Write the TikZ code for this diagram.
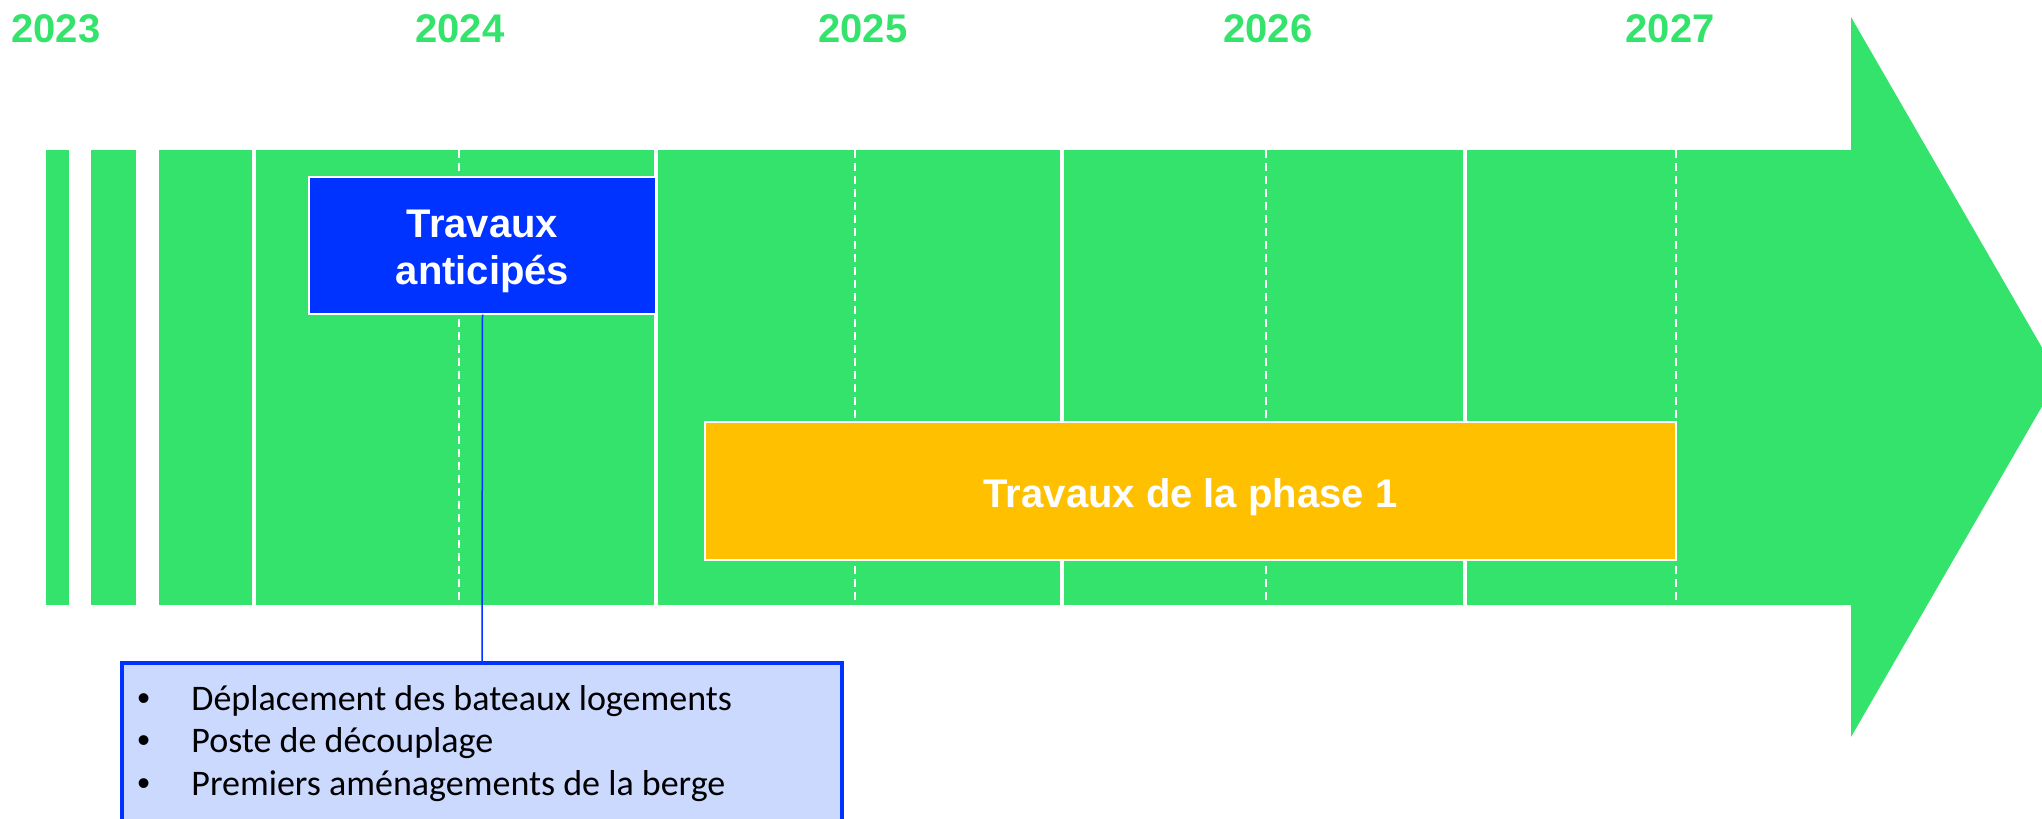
\documentclass[tikz,border=0pt]{standalone}
\usepackage{fontspec}
\setmainfont{Liberation Sans}
\newfontfamily\calib{Carlito}
\definecolor{tlgreen}{RGB}{52,227,108}
\definecolor{tlblue}{RGB}{0,51,255}
\definecolor{tlorange}{RGB}{255,192,0}
\definecolor{tllight}{RGB}{204,217,255}
\begin{document}
\begin{tikzpicture}[x=0.5pt,y=-0.5pt,
  seg/.style={fill=tlgreen},
  yeardash/.style={draw=white, line width=0.75pt, dash pattern=on 4pt off 2.5pt},
  yearlbl/.style={font=\bfseries\fontsize{20}{24}\selectfont, text=tlgreen, anchor=base, inner sep=0pt},
  phasebox/.style={draw=white, line width=0.6pt, inner sep=0pt, text=white, font=\bfseries\fontsize{20}{23.5}\selectfont},
  callbox/.style={draw=tlblue, line width=2pt, fill=tllight, inner sep=0pt},
  itemtxt/.style={font=\calib\fontsize{18}{21}\selectfont, anchor=base west, inner sep=0pt},
  link/.style={draw=tlblue, line width=0.75pt}]
\useasboundingbox (0,0) rectangle (2042,819);
\clip (0,0) rectangle (2042,819);
% green timeline segments
\fill[seg] (46,150) rectangle (69,605);
\fill[seg] (91,150) rectangle (136,605);
\fill[seg] (159,150) rectangle (252,605);
\fill[seg] (256,150) rectangle (654,605);
\fill[seg] (658,150) rectangle (1060,605);
\fill[seg] (1064,150) rectangle (1463,605);
\fill[seg] (1467,150) -- (1851,150) -- (1851,17) -- (2059,377) -- (1851,737) -- (1851,605) -- (1467,605) -- cycle;
% dashed mid-year lines
\foreach \x in {459,855,1266,1676} \draw[yeardash] (\x,150) -- (\x,605);
% years
\node[yearlbl] (y2023) at (56,42) {2023};
\node[yearlbl] (y2024) at (460,42) {2024};
\node[yearlbl] (y2025) at (863,42) {2025};
\node[yearlbl] (y2026) at (1268,42) {2026};
\node[yearlbl] (y2027) at (1670,42) {2027};
% boxes
\node[phasebox, fill=tlblue, minimum width=173.5pt, minimum height=68.5pt, align=center, text height=40pt, text depth=1.5pt] (anticip) at (482.5,245.5) {Travaux\\anticipés};
\node[phasebox, fill=tlorange, minimum width=485.5pt, minimum height=69pt, text height=16pt, text depth=0pt] (phase1) at (1190.5,491) {Travaux de la phase 1};
\node[callbox, minimum width=360pt, minimum height=108.5pt] (callout) at (482,771.5) {};
\draw[link] (anticip.south) -- (callout.north);
% list items
\node[itemtxt] (item1) at (137,710) {\makebox[27pt][l]{\rmfamily •}Déplacement des bateaux logements};
\node[itemtxt] (item2) at (137,752) {\makebox[27pt][l]{\rmfamily •}Poste de découplage};
\node[itemtxt] (item3) at (137,795) {\makebox[27pt][l]{\rmfamily •}Premiers aménagements de la berge};
\end{tikzpicture}
\end{document}
